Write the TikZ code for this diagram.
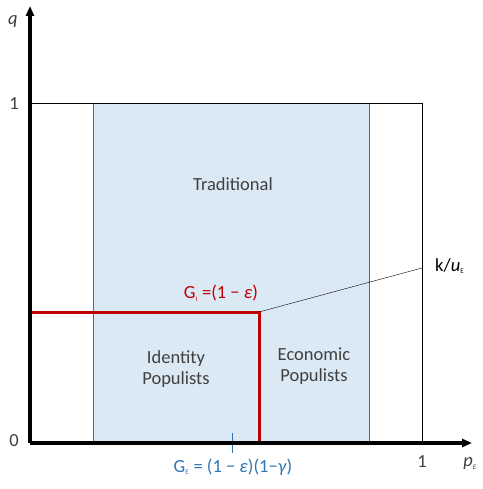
\documentclass[tikz,border=0pt]{standalone}
\usepackage{fontspec}
\setmainfont{Carlito}
\usetikzlibrary{arrows.meta}
\definecolor{regionfill}{RGB}{219,233,245}
\definecolor{regionline}{RGB}{46,117,182}
\definecolor{bound}{RGB}{192,0,0}
\definecolor{txt}{RGB}{64,64,64}
\begin{document}
\begin{tikzpicture}[x=1pt,y=-1pt,>={Triangle[length=10pt,width=8pt]},
  lbl/.style={font=\fontsize{18.5}{21}\selectfont,text=txt,align=center,inner sep=1pt}]
\useasboundingbox (0,0) rectangle (482,489);
% Corners of the unit square
\coordinate (O) at (30,443);
\coordinate (xone) at (422,443);
\coordinate (yone) at (30,103);
\coordinate (corner) at (422,103);

% Shaded populist region
\fill[regionfill] (93,103) rectangle (369,443);
\draw[regionline] (93,103) -- (93,443);
\draw[regionline] (369,103) -- (369,443);

% Unit square outline
\draw[black] (yone) -- (corner) -- (xone);

% Identity threshold (red)
\coordinate (GIend) at (30,312);
\coordinate (kink) at (259,312);
\coordinate (kbase) at (259,443);
\draw[bound,line width=3pt] (GIend) -- (kink) -- (kbase);

% Line to the k/u_E label
\coordinate (kend) at (422,268);
\draw[black] (kink) -- (kend);

% Tick for G_E
\coordinate (GEtop) at (232,433);
\coordinate (GEbot) at (232,453);
\draw[regionline] (GEtop) -- (GEbot);

% Axes
\draw[->,line width=3.2pt] (O) -- (472,443);
\draw[->,line width=3.2pt] (O) -- (30,6);

% Axis labels
\node[lbl] (qlab) at (13,22) {\textit{q}};
\node[lbl] (ylab1) at (14,104) {1};
\node[lbl] (ylab0) at (14,441) {0};
\node[lbl] (xlab1) at (422,462) {1};
\node[lbl] (xlab) at (470,464) {\textit{p}\textsubscript{\scriptsize\itshape E}};

% Region texts
\node[lbl] (trad) at (233,184) {Traditional};
\node[lbl] (ident) at (176,369) {Identity\\Populists};
\node[lbl] (econ) at (314,366) {Economic\\Populists};

% Threshold texts
\node[lbl,text=bound] (GI) at (221,293) {G\textsubscript{\scriptsize I} =(1 − \textit{ε})};
\node[lbl,text=regionline] (GE) at (233,467) {G\textsubscript{\scriptsize E} = (1 − \textit{ε})(1−\textit{γ})};
\node[lbl,text=black,anchor=west] (ku) at (434,266) {k/\textit{u}\textsubscript{\scriptsize E}};
\end{tikzpicture}
\end{document}
